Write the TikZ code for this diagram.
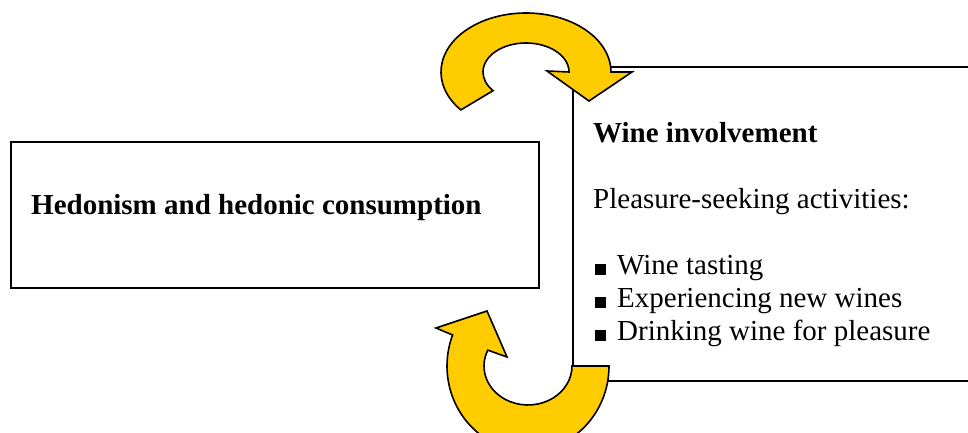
\documentclass[tikz,border=0pt]{standalone}
\usepackage{fontspec}
\setmainfont{Liberation Serif}
\usetikzlibrary{calc}
\definecolor{arrowyellow}{HTML}{FFCC00}
\tikzset{
  box/.style={draw=black, line width=1.7pt, fill=white, inner sep=0pt, anchor=south west},
  txt/.style={inner sep=0pt, anchor=base west, font=\fontsize{29}{33}\selectfont},
  bigarrow/.style={draw=black, fill=arrowyellow, line width=1.6pt, line join=miter}
}
\newcommand{\sqbullet}{\rule{11pt}{11pt}\hspace{11pt}}
\begin{document}
\begin{tikzpicture}[x=1pt,y=1pt]
\useasboundingbox (0,0) rectangle (968,433);
\clip (0,0) rectangle (968,433);
\fill[white] (0,0) rectangle (968,433);
% boxes
\node[box, minimum width=528pt, minimum height=146pt] (hedbox) at (10,144) {};
\node[box, minimum width=410pt, minimum height=314pt] (winebox) at (572,51) {};
% texts
\node[txt] (hed) at (31,218) {\textbf{Hedonism and hedonic consumption}};
\node[txt] (winv) at (593,290) {\textbf{Wine involvement}};
\node[txt] (pleas) at (593,224) {Pleasure-seeking activities:};
\node[txt] (b1) at (595,158) {\sqbullet Wine tasting};
\node[txt] (b2) at (595,125) {\sqbullet Experiencing new wines};
\node[txt] (b3) at (595,92) {\sqbullet Drinking wine for pleasure};
% top curved arrow
\coordinate (tc) at (526,361);
\path[bigarrow] ($(tc)+(220:85pt and 59pt)$)
  arc[start angle=220, end angle=0, x radius=85pt, y radius=59pt]
  -- (632,361) -- (589,332) -- (547,362)
  -- ($(tc)+(43,0)$)
  arc[start angle=0, end angle=220, x radius=43pt, y radius=29pt]
  -- cycle;
% bottom curved arrow
\coordinate (bc) at (528,67);
\path[bigarrow] ($(bc)+(81,0)$)
  arc[start angle=0, end angle=-201.4, x radius=81pt, y radius=85pt]
  -- (436,105) -- (487,122) -- (507,76)
  -- ($(bc)+(156:44pt and 39pt)$)
  arc[start angle=-204, end angle=0, x radius=44pt, y radius=39pt]
  -- cycle;
\end{tikzpicture}
\end{document}
